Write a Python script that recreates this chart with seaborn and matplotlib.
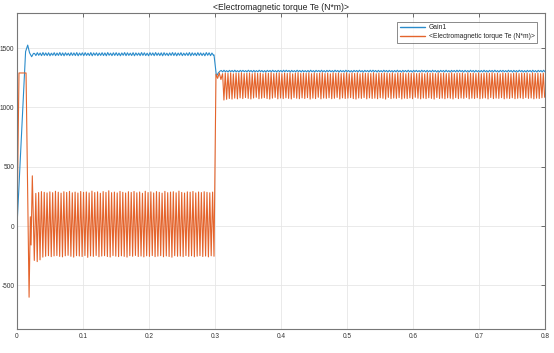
import numpy as np
import pandas as pd
import matplotlib
matplotlib.use("Agg")
import matplotlib.pyplot as plt
from matplotlib.lines import Line2D
import seaborn as sns

# ---- labels ----
series_names = ["Gain1", "<Electromagnetic torque Te (N*m)>"]
title_text = "<Electromagnetic torque Te (N*m)>"
x_ticks = [0, 0.1, 0.2, 0.3, 0.4, 0.5, 0.6, 0.7, 0.8]
x_tick_labels = ["0", "0.1", "0.2", "0.3", "0.4", "0.5", "0.6", "0.7", "0.8"]
y_ticks = [-500, 0, 500, 1000, 1500]
y_tick_labels = ["-500", "0", "500", "1000", "1500"]

# ---- Gain1 (blue) ----
gain_start_t = [0.0, 0.0130, 0.0162, 0.0190, 0.0222, 0.0250]
gain_start_v = [0, 1470, 1525, 1460, 1427, 1455]
# ripple peaks / troughs 0.0265 .. 0.2975 s
gain_rip1 = [
    1455, 1437, 1461, 1439, 1458, 1436, 1462, 1438, 1459, 1437, 1460, 1435, 1457, 1439, 1461, 1436,
    1458, 1438, 1462, 1437, 1459, 1435, 1460, 1439, 1457, 1436, 1461, 1438, 1459, 1437, 1462, 1435,
    1458, 1439, 1460, 1436, 1461, 1438, 1457, 1437, 1462, 1435, 1459, 1439, 1460, 1436, 1458, 1438,
    1461, 1437, 1459, 1435, 1462, 1439, 1457, 1436, 1460, 1438, 1461, 1437, 1458, 1435, 1459, 1439,
    1462, 1436, 1460, 1438, 1457, 1437, 1461, 1435, 1459, 1439, 1458, 1436, 1462, 1438, 1460, 1437,
    1457, 1435, 1461, 1439, 1459, 1436, 1462, 1438, 1458, 1437, 1460, 1435, 1461, 1439, 1457, 1436,
    1459, 1438, 1462, 1437, 1460, 1435, 1458, 1439, 1461, 1436, 1457, 1438, 1459, 1437, 1462, 1435,
    1460, 1439, 1458, 1436, 1461, 1438, 1459, 1437, 1457, 1435, 1462, 1439, 1460, 1436, 1458, 1440,
]
gain_step_t = [0.2985, 0.3022, 0.3050, 0.3075]
gain_step_v = [1442, 1262, 1290, 1305]
# ripple peaks / troughs 0.3095 .. 0.8 s
gain_rip2 = [
    1311, 1299, 1313, 1300, 1310, 1298, 1312, 1301, 1311, 1299, 1313, 1300, 1310, 1298, 1312, 1301,
    1312, 1300, 1310, 1299, 1313, 1301, 1311, 1298, 1312, 1300, 1310, 1299, 1313, 1301, 1311, 1298,
    1310, 1298, 1312, 1301, 1311, 1299, 1313, 1300, 1310, 1298, 1312, 1301, 1311, 1299, 1313, 1300,
    1313, 1301, 1311, 1298, 1312, 1300, 1310, 1299, 1313, 1301, 1311, 1298, 1312, 1300, 1310, 1299,
    1311, 1299, 1313, 1300, 1310, 1298, 1312, 1301, 1311, 1299, 1313, 1300, 1310, 1298, 1312, 1301,
    1312, 1300, 1310, 1299, 1313, 1301, 1311, 1298, 1312, 1300, 1310, 1299, 1313, 1301, 1311, 1298,
    1310, 1298, 1312, 1301, 1311, 1299, 1313, 1300, 1310, 1298, 1312, 1301, 1311, 1299, 1313, 1300,
    1313, 1301, 1311, 1298, 1312, 1300, 1310, 1299, 1313, 1301, 1311, 1298, 1312, 1300, 1310, 1299,
    1311, 1299, 1313, 1300, 1310, 1298, 1312, 1301, 1311, 1299, 1313, 1300, 1310, 1298, 1312, 1301,
    1312, 1300, 1310, 1299, 1313, 1301, 1311, 1298, 1312, 1300, 1310, 1299, 1313, 1301, 1311, 1298,
    1310, 1298, 1312, 1301, 1311, 1299, 1313, 1300, 1310, 1298, 1312, 1301, 1311, 1299, 1313, 1300,
    1313, 1301, 1311, 1298, 1312, 1300, 1310, 1299, 1313, 1301, 1311, 1298, 1312, 1300, 1310, 1299,
    1311, 1299, 1313, 1300, 1310, 1298, 1312, 1301, 1311, 1299, 1313, 1300, 1310, 1298, 1312, 1301,
    1312, 1300, 1310, 1299, 1313, 1301, 1311, 1298, 1312, 1300, 1310, 1299, 1313, 1301, 1311, 1298,
    1310, 1298, 1312, 1301, 1311, 1299, 1313, 1300, 1310, 1298, 1312, 1301, 1311, 1299, 1313, 1300,
]

# ---- Electromagnetic torque Te (orange) ----
te_start_t = [0.0, 0.0030, 0.0137, 0.0183, 0.0202, 0.0213, 0.0232, 0.0262]
te_start_v = [0, 1290, 1290, -600, 78, -160, 423, -290]
# oscillation peaks / troughs 0.0285 .. 0.2985 s
te_osc1 = [
    275, -300, 282, -285, 290, -262, 284, -255, 279, -250, 288, -258, 281, -252, 293, -249,
    285, -256, 277, -260, 289, -251, 283, -247, 292, -255, 280, -262, 286, -250, 278, -253,
    291, -257, 284, -249, 287, -264, 279, -252, 294, -256, 282, -248, 288, -259, 276, -253,
    290, -250, 283, -257, 297, -261, 281, -249, 286, -254, 279, -258, 292, -251, 284, -256,
    278, -262, 289, -250, 283, -255, 291, -248, 280, -257, 287, -253, 276, -260, 293, -251,
    282, -256, 288, -249, 279, -258, 290, -254, 284, -250, 277, -259, 292, -252, 281, -257,
    286, -263, 289, -250, 280, -255, 294, -253, 283, -258, 278, -249, 288, -256, 285, -251,
    291, -259, 279, -254, 287, -250, 282, -257, 289, -253, 284, -260, 280, -251, 286, -255,
]
te_step_t = [0.3015, 0.3040, 0.3065, 0.3090]
te_step_v = [1280, 1245, 1290, 1235]
# oscillation peaks / troughs 0.3115 .. 0.7995 s
te_osc2 = [
    1284, 1062, 1290, 1068, 1286, 1075, 1291, 1070, 1283, 1078, 1289, 1072, 1287, 1080, 1292, 1074,
    1285, 1083, 1288, 1076, 1290, 1071, 1284, 1079, 1291, 1085, 1286, 1073, 1289, 1077, 1283, 1082,
    1290, 1075, 1287, 1070, 1292, 1078, 1285, 1084, 1288, 1072, 1291, 1079, 1284, 1074, 1289, 1081,
    1286, 1076, 1290, 1071, 1283, 1083, 1288, 1077, 1292, 1073, 1285, 1080, 1289, 1075, 1287, 1082,
    1291, 1070, 1284, 1078, 1290, 1074, 1286, 1085, 1288, 1072, 1292, 1079, 1285, 1076, 1289, 1081,
    1283, 1073, 1291, 1077, 1287, 1084, 1290, 1071, 1285, 1080, 1288, 1075, 1292, 1078, 1284, 1082,
    1289, 1074, 1286, 1070, 1291, 1079, 1283, 1076, 1290, 1083, 1287, 1072, 1288, 1080, 1285, 1075,
    1292, 1078, 1284, 1073, 1289, 1081, 1286, 1077, 1290, 1070, 1288, 1084, 1285, 1074, 1291, 1079,
    1283, 1076, 1290, 1082, 1287, 1071, 1292, 1078, 1284, 1075, 1289, 1080, 1286, 1073, 1291, 1085,
    1285, 1077, 1288, 1072, 1290, 1079, 1283, 1074, 1291, 1081, 1287, 1076, 1289, 1070, 1284, 1083,
    1292, 1075, 1286, 1078, 1290, 1073, 1285, 1080, 1288, 1077, 1291, 1071, 1284, 1082, 1289, 1074,
    1287, 1079, 1290, 1076, 1283, 1084, 1292, 1072, 1286, 1078, 1289, 1075, 1285, 1081, 1291, 1073,
    1284, 1077, 1288, 1080, 1290, 1071, 1287, 1083, 1292, 1074, 1285, 1079, 1289, 1076, 1283, 1082,
    1291, 1072, 1286, 1078, 1290, 1075, 1284, 1081, 1288, 1073, 1292, 1077, 1285, 1080, 1289, 1074,
    1287, 1083, 1290, 1076, 1283, 1079, 1291, 1072, 1286, 1078, 1289, 1075, 1284, 1081, 1288, 1085,
]

# sample times of the listed peaks (uniform grid)
gain_t = np.concatenate([gain_start_t, np.linspace(0.0265, 0.2975, len(gain_rip1)),
                         gain_step_t, np.linspace(0.3095, 0.8, len(gain_rip2))])
gain_v = np.concatenate([gain_start_v, gain_rip1, gain_step_v, gain_rip2])
te_t = np.concatenate([te_start_t, np.linspace(0.0285, 0.2985, len(te_osc1)),
                       te_step_t, np.linspace(0.3115, 0.7995, len(te_osc2))])
te_v = np.concatenate([te_start_v, te_osc1, te_step_v, te_osc2])

df = pd.DataFrame({
    "t": np.concatenate([gain_t, te_t]),
    "v": np.concatenate([gain_v, te_v]),
    "series": [series_names[0]] * len(gain_t) + [series_names[1]] * len(te_t),
})

colors = {series_names[0]: "#2b8ccb", series_names[1]: "#e4642c"}

sns.set_style("white")
plt.rcParams["font.family"] = ["Liberation Sans", "DejaVu Sans"]

fig = plt.figure(figsize=(5.54, 3.53), dpi=100)
ax = fig.add_axes([0.0307, 0.068, 0.953, 0.895])

sns.lineplot(data=df, x="t", y="v", hue="series", hue_order=series_names,
             palette=colors, estimator=None, sort=False, linewidth=0.8,
             legend=False, ax=ax)

ax.set_xlim(0, 0.8)
ax.set_ylim(-868, 1795)
ax.set_xticks(x_ticks)
ax.set_xticklabels(x_tick_labels)
ax.set_yticks(y_ticks)
ax.set_yticklabels(y_tick_labels)
ax.set_xlabel("")
ax.set_ylabel("")
ax.grid(True, color="#e6e6e6", linewidth=0.6)
ax.set_axisbelow(True)
ax.tick_params(direction="in", length=3, width=0.6, colors="#555555",
               labelsize=4.7, labelcolor="#333333", top=True, right=True,
               labeltop=False, labelright=False)
ax.tick_params(axis="y", pad=1.8)
ax.tick_params(axis="x", pad=3)
for s in ax.spines.values():
    s.set_color("#777777")
    s.set_linewidth(0.8)
ax.set_title(title_text, fontsize=6.2, color="#222222", pad=2)

handles = [Line2D([0], [0], color=colors[n], linewidth=1.0) for n in series_names]
leg = ax.legend(handles, series_names, loc="upper right", bbox_to_anchor=(0.985, 0.9715),
                borderaxespad=0, fontsize=4.9, handlelength=3.7, frameon=True,
                fancybox=False, edgecolor="#555555", borderpad=0.35,
                labelspacing=0.25, handletextpad=0.6)
leg.get_frame().set_linewidth(0.6)

fig.savefig("out.png", dpi=100)
